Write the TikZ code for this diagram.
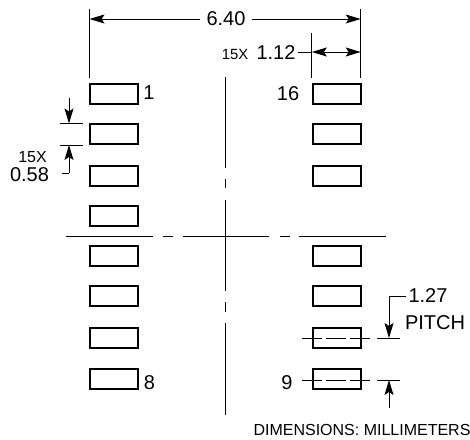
\documentclass[tikz,border=0pt]{standalone}
\usepackage{fontspec}
\setmainfont{Liberation Sans}
\usetikzlibrary{positioning,arrows.meta}
\tikzset{pad/.style={rectangle,draw,line width=2pt,minimum width=48pt,minimum height=20pt,inner sep=0pt,outer sep=0pt},
    big txt/.style={font=\fontsize{20}{20}\selectfont,inner sep=2pt},
    mid txt/.style={font=\fontsize{16}{16}\selectfont,inner sep=0pt},
    small txt/.style={font=\fontsize{14.8}{15}\selectfont,inner sep=0pt},
    thin line/.style={line width=1pt},
    tip/.style={>={Stealth[length=15pt,width=9pt,inset=3pt]}},}
\newcommand{\ed}[2]{\draw[thin line] (#1) -- (#2);}
\newcommand{\ar}[2]{\draw[thin line,tip,->] (#1) -- (#2);}
\begin{document}
\begin{tikzpicture}[x=1pt,y=-1pt]
        \useasboundingbox (0,0) rectangle (470,439);

        \node[pad] (1) at (114,94) {};
        \node[pad] (2) [below = 20pt of 1] {};
        \node[pad] (3) [below = 22pt of 2] {};
        \node[pad] (4) [below = 20pt of 3] {};
        \node[pad] (5) [below = 20pt of 4] {};
        \node[pad] (6) [below = 20pt of 5] {};
        \node[pad] (7) [below = 22pt of 6] {};
        \node[pad] (8) [below = 21pt of 7] {};
        \node[pad] (16) at (337,94) {};
        \node[pad] (15) [below = 20pt of 16] {};
        \node[pad] (14) [below = 22pt of 15] {};
        \node[pad] (13) at (337,256) {};
        \node[pad] (12) [below = 20pt of 13] {};
        \node[pad] (11) [below = 22pt of 12] {};
        \node[pad] (10) [below = 21pt of 11] {};

        \node[big txt] (t1) at (149,93) {1};
        \node[big txt] (t16) at (288,94) {16};
        \node[big txt] (t8) at (149.5,383) {8};
        \node[big txt] (t9) at (287,383) {9};
        \node[big txt,inner sep=6pt] (t640) at (226,19) {6.40};
        \node[big txt] (t112) at (276,53) {1.12};
        \node[small txt] (t15a) at (235,54) {15X};
        \node[small txt,font=\fontsize{16}{16}\selectfont] (t15b) at (32.5,157) {15X};
        \node[big txt] (t058) at (29.5,175) {0.58};
        \node[big txt] (t127) at (428,296) {1.27};
        \node[big txt] (tpitch) at (435,323) {PITCH};
        \node[mid txt] (tdim) at (362,429.5) {DIMENSIONS: MILLIMETERS};

        % center lines
        \coordinate (hl) at (66,236);
        \coordinate (hr) at (386,236);
        \coordinate (vt) at (225,77);
        \coordinate (vb) at (225,415);
        \draw[thin line,dash pattern=on 87pt off 10pt on 10pt off 10pt on 86pt off 11pt on 10pt off 9pt on 87pt] (hl) -- (hr);
        \draw[thin line,dash pattern=on 91pt off 11pt on 9pt off 12pt on 91pt off 11pt on 10pt off 11pt on 92pt] (vt) -- (vb);

        % 6.40
        \coordinate (a1) at (89.5,9);
        \coordinate (a2) at (89.5,78);
        \coordinate (a3) at (360.7,9);
        \coordinate (a4) at (360.7,78);
        \coordinate (a5) at (311.8,33);
        \coordinate (a6) at (311.8,78);
        \ed{a1}{a2}
        \ed{a3}{a4}
        \ed{a5}{a6}
        \ar{t640}{a1 |- t640}
        \ar{t640}{a3 |- t640}

        % 1.12
        \coordinate (a7) at (311.8,52);
        \coordinate (a8) at (360.7,52);
        \ed{t112.east |- a7}{a7}
        \draw[thin line,tip,<->] (a7) -- (a8);

        % 0.58
        \coordinate (b1) at (60,123.5);
        \coordinate (b2) at (83,123.5);
        \coordinate (b3) at (60,145);
        \coordinate (b4) at (83,145);
        \coordinate (b5) at (69,98);
        \coordinate (b6) at (69,123.5);
        \coordinate (b7) at (62,173);
        \coordinate (b8) at (69,173);
        \coordinate (b9) at (69,145);
        \ed{b1}{b2}
        \ed{b3}{b4}
        \ar{b5}{b6}
        \ed{b7}{b8}
        \ar{b8}{b9}

        % pitch
        \coordinate (c1) at (302,338);
        \coordinate (c2) at (400,338);
        \coordinate (c3) at (302,380);
        \coordinate (c4) at (400,380);
        \coordinate (c5) at (389,296);
        \coordinate (c6) at (389,338);
        \coordinate (c7) at (389,408);
        \coordinate (c8) at (389,380);
        \draw[thin line,dash pattern=on 20pt off 4pt on 20pt off 4pt on 20pt off 7pt on 23pt] (c1) -- (c2);
        \draw[thin line,dash pattern=on 20pt off 4pt on 20pt off 4pt on 20pt off 7pt on 23pt] (c3) -- (c4);
        \ed{t127.west}{c5}
        \ar{c5}{c6}
        \ar{c7}{c8}
    \end{tikzpicture}
\end{document}
